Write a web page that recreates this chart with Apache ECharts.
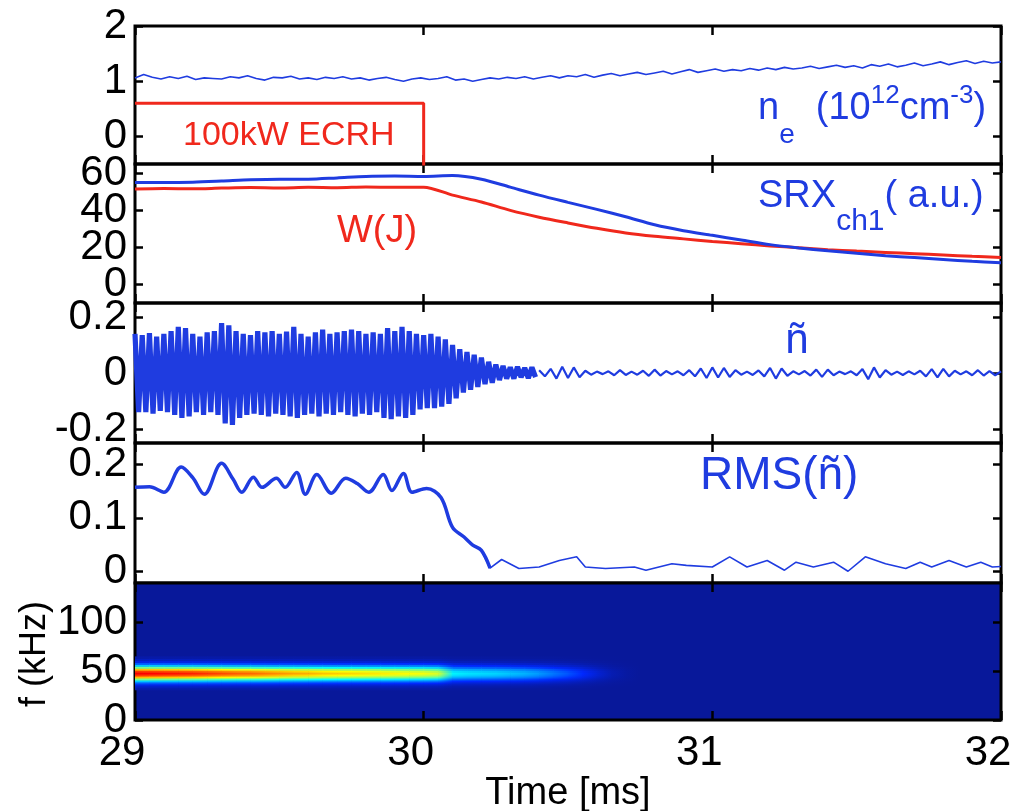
<!DOCTYPE html>
<html><head><meta charset="utf-8">
<script src="https://cdn.jsdelivr.net/npm/echarts@6/dist/echarts.min.js"></script>
<style>html,body{margin:0;padding:0;background:#fff}#c{width:1019px;height:811px}</style>
</head><body><div id="c"></div>
<script>
// ---------------- DATA ----------------
const timeTicks = [29, 30, 31, 32];
const neTicks = [0, 1, 2];
const srxTicks = [0, 20, 40, 60];
const ntTicks = [-0.2, 0, 0.2];
const rmsTicks = [0, 0.1, 0.2];
const fTicks = [0, 50, 100];

// electron density n_e, sampled every 0.03 ms from 29 ms
const neStart = 29, neStep = 0.03;
const neValues = [
  1.06, 1.12, 1.07, 1.04, 1.08, 1.05, 1.09, 1.03, 1.06, 1.05,
  1.04, 1.08, 1.06, 1.10, 1.05, 1.02, 1.07, 1.06, 1.09, 1.04,
  1.06, 1.03, 1.07, 1.05, 1.08, 1.04, 1.06, 1.02, 1.05, 1.07,
  1.03, 1.00, 1.04, 1.06, 1.03, 1.05, 1.08, 1.02, 1.04, 1.00,
  1.03, 1.06, 1.04, 1.07, 1.05, 1.08, 1.04, 1.07, 1.10, 1.06,
  1.10, 1.08, 1.12, 1.07, 1.11, 1.14, 1.10, 1.13, 1.16, 1.12,
  1.15, 1.18, 1.13, 1.17, 1.21, 1.16, 1.19, 1.22, 1.18, 1.21,
  1.19, 1.23, 1.20, 1.24, 1.21, 1.25, 1.22, 1.24, 1.27, 1.23,
  1.26, 1.29, 1.25, 1.28, 1.24, 1.30, 1.27, 1.31, 1.26, 1.29,
  1.33, 1.28, 1.31, 1.35, 1.30, 1.34, 1.37, 1.32, 1.36, 1.33,
  1.35
];
// ECRH pulse (100 kW) on/off
const ecrhTime = [29, 30, 30];
const ecrhValue = [0.6, 0.6, -0.6];

// SRX ch1 and stored energy W(J)
const slowTime = [29.0, 29.1, 29.2, 29.3, 29.4, 29.5, 29.6, 29.7, 29.8, 29.9,
  30.0, 30.1, 30.2, 30.3, 30.4, 30.5, 30.6, 30.7, 30.8, 30.9,
  31.0, 31.1, 31.2, 31.3, 31.4, 31.5, 31.6, 31.7, 31.8, 31.9, 32.0];
const srxValue = [55.0, 55.0, 55.2, 55.8, 56.5, 56.8, 56.8, 57.5, 58.3, 58.5,
  58.3, 58.8, 56.8, 52.5, 48.2, 44.3, 40.5, 36.5, 32.2, 29.0,
  26.5, 24.0, 21.5, 19.7, 18.2, 16.8, 15.5, 14.5, 13.5, 12.5, 11.7];
const wValue = [51.5, 51.8, 51.6, 52.0, 52.3, 52.1, 52.4, 52.2, 52.6, 52.4,
  52.5, 48.2, 44.5, 40.0, 36.3, 33.2, 30.3, 27.8, 26.0, 24.6,
  23.2, 22.0, 20.8, 19.8, 18.8, 18.0, 17.3, 16.6, 15.9, 15.2, 14.6];

// density fluctuation ñ : positive / negative peaks of each oscillation cycle
const ntStart = 29, ntCycle = 0.025;
const ntHigh = [
  0.140, 0.135, 0.142, 0.130, 0.140, 0.150, 0.165, 0.160, 0.140, 0.130,
  0.145, 0.150, 0.178, 0.170, 0.150, 0.140, 0.135, 0.150, 0.145, 0.150,
  0.140, 0.148, 0.165, 0.140, 0.130, 0.145, 0.155, 0.140, 0.145, 0.150,
  0.155, 0.150, 0.140, 0.145, 0.140, 0.160, 0.150, 0.165, 0.150, 0.140,
  0.135, 0.140, 0.130, 0.120, 0.100, 0.085, 0.075, 0.065, 0.055, 0.040,
  0.030, 0.025, 0.020, 0.022, 0.018, 0.020];
const ntLow = [
  -0.140, -0.140, -0.145, -0.135, -0.140, -0.150, -0.160, -0.155, -0.140, -0.150,
  -0.140, -0.150, -0.180, -0.185, -0.160, -0.150, -0.145, -0.150, -0.155, -0.145,
  -0.150, -0.155, -0.160, -0.150, -0.145, -0.155, -0.145, -0.150, -0.140, -0.150,
  -0.155, -0.145, -0.150, -0.140, -0.160, -0.165, -0.155, -0.160, -0.150, -0.130,
  -0.125, -0.125, -0.120, -0.110, -0.090, -0.070, -0.060, -0.050, -0.040, -0.035,
  -0.025, -0.020, -0.020, -0.015, -0.018, -0.015];
// residual fluctuation after the transition, every 0.02 ms from 30.40 ms
const ntNoiseStart = 30.40, ntNoiseStep = 0.02;
const ntNoise = [
  0.010, -0.012, 0.015, -0.020, 0.022, -0.018, 0.020, -0.015, 0.008, -0.006,
  0.005, -0.004, 0.006, -0.008, 0.010, -0.007, 0.005, -0.006, 0.008, -0.010,
  0.012, -0.009, 0.007, -0.005, 0.006, -0.008, 0.010, -0.012, 0.016, -0.018,
  0.020, -0.016, 0.018, -0.014, 0.010, -0.006, 0.005, -0.007, 0.009, -0.012,
  0.018, -0.020, 0.016, -0.010, 0.006, -0.005, 0.007, -0.009, 0.012, -0.014,
  0.012, -0.008, 0.005, -0.004, 0.006, -0.008, 0.014, -0.022, 0.020, -0.016,
  0.010, -0.006, 0.005, -0.007, 0.006, -0.005, 0.008, -0.012, 0.014, -0.016,
  0.015, -0.012, 0.008, -0.005, 0.006, -0.008, 0.010, -0.009, 0.007, -0.008,
  0.006];

// RMS(ñ)
const rmsTime = [29.00, 29.05, 29.10, 29.16, 29.20, 29.24, 29.30, 29.34, 29.37, 29.41,
  29.44, 29.49, 29.52, 29.56, 29.59, 29.63, 29.68, 29.73, 29.77, 29.81,
  29.86, 29.89, 29.93, 29.96, 30.01, 30.06, 30.10, 30.14, 30.17, 30.20,
  30.23, 30.27, 30.33, 30.40, 30.47, 30.53, 30.56, 30.63, 30.73, 30.77,
  30.86, 30.91, 31.00, 31.06, 31.12, 31.19, 31.25, 31.29, 31.35, 31.42,
  31.47, 31.53, 31.60, 31.67, 31.72, 31.76, 31.82, 31.88, 31.93, 31.97, 32.00];
const rmsValue = [0.157, 0.158, 0.148, 0.195, 0.175, 0.144, 0.202, 0.172, 0.148, 0.176,
  0.157, 0.174, 0.157, 0.185, 0.144, 0.181, 0.146, 0.174, 0.164, 0.148,
  0.181, 0.151, 0.183, 0.148, 0.155, 0.138, 0.082, 0.064, 0.049, 0.039,
  0.006, 0.022, 0.005, 0.008, 0.020, 0.027, 0.008, 0.005, 0.008, 0.002,
  0.014, 0.011, 0.008, 0.027, 0.008, 0.020, 0.002, 0.017, 0.008, 0.017,
  0.000, 0.027, 0.014, 0.005, 0.017, 0.008, 0.020, 0.008, 0.017, 0.008, 0.009];

// spectrogram: mode amplitude vs time, and its frequency profile
const specTime = [29.00, 29.05, 29.10, 29.15, 29.20, 29.25, 29.30, 29.35, 29.40, 29.45,
  29.50, 29.55, 29.60, 29.65, 29.70, 29.75, 29.80, 29.85, 29.90, 29.95,
  30.00, 30.05, 30.10, 30.15, 30.20, 30.25, 30.30, 30.35, 30.40, 30.45,
  30.50, 30.55, 30.60, 30.65, 30.70];
const specAmp = [0.88, 0.87, 0.86, 0.85, 0.84, 0.82, 0.80, 0.78, 0.77, 0.75,
  0.73, 0.71, 0.70, 0.68, 0.67, 0.66, 0.65, 0.64, 0.63, 0.62,
  0.61, 0.58, 0.36, 0.34, 0.33, 0.32, 0.30, 0.28, 0.25, 0.21,
  0.17, 0.12, 0.07, 0.03, 0.01];
const specFreq = [31, 33, 35, 37, 39, 41, 43, 45, 47, 49, 51, 53, 55, 57, 59, 61, 63];
const specProfile = [0.02, 0.05, 0.10, 0.20, 0.35, 0.55, 0.78, 0.93, 1.00, 0.93,
  0.78, 0.55, 0.35, 0.20, 0.10, 0.05, 0.02];

// ---------------- STYLE / LAYOUT ----------------
const FONT = '"Liberation Sans", Arial, Helvetica, sans-serif';
const BLUE = '#1f3ce0';
const RED = '#f0281c';
const BG = [8, 24, 154];
const grids = [
  {top: 26, height: 138},
  {top: 164, height: 139},
  {top: 303, height: 140},
  {top: 443, height: 140},
  {top: 583, height: 137}
];
const yRanges = [[-0.5, 2, neTicks], [-10, 65, srxTicks], [-0.25, 0.25, ntTicks],
  [-0.022, 0.24, rmsTicks], [0, 140, fTicks]];

const stops = [[0, BG], [0.12, [0, 40, 255]], [0.37, [0, 255, 255]], [0.62, [255, 255, 0]],
  [0.87, [255, 0, 0]], [1.0, [128, 0, 0]]];
function cmap(v) {
  v = Math.max(0, Math.min(1, v));
  for (let k = 1; k < stops.length; k++) {
    if (v <= stops[k][0]) {
      const a = stops[k - 1], b = stops[k];
      const f = (v - a[0]) / (b[0] - a[0]);
      const c = a[1].map((x, m) => Math.round(x + (b[1][m] - x) * f));
      return 'rgb(' + c.join(',') + ')';
    }
  }
  return 'rgb(128,0,0)';
}

const tickStyle = {color: '#000', width: 2.5};
const labelBase = {fontSize: 42, fontFamily: FONT, color: '#000', lineHeight: 30,
  hideOverlap: false, showMinLabel: true, showMaxLabel: true};
const xAxes = [], yAxes = [];
function leftAxis(gi, r, labelValues, tickValues) {
  return {
    type: 'value', gridIndex: gi, min: r[0], max: r[1], position: 'left',
    axisLine: {show: false, onZero: false}, splitLine: {show: false},
    axisTick: {show: true, inside: true, length: 8, lineStyle: tickStyle, customValues: tickValues},
    axisLabel: Object.assign({show: true, customValues: labelValues, margin: 8}, labelBase)
  };
}
grids.forEach((g, i) => {
  const last = i === grids.length - 1;
  xAxes.push({
    type: 'value', gridIndex: i, min: 29, max: 32, interval: 1, position: 'bottom',
    axisLine: {show: false, onZero: false}, splitLine: {show: false},
    axisTick: {show: true, inside: true, length: 9, lineStyle: tickStyle, customValues: timeTicks},
    axisLabel: Object.assign({show: last, customValues: timeTicks, margin: 18, padding: [0, 26, 0, 0]}, labelBase),
    name: last ? 'Time [ms]' : '', nameLocation: 'middle', nameGap: 50,
    nameTextStyle: {fontSize: 38, fontFamily: FONT, color: '#000'}
  });
  xAxes.push({
    type: 'value', gridIndex: i, min: 29, max: 32, interval: 1, position: 'top',
    axisLine: {show: false, onZero: false}, splitLine: {show: false},
    axisTick: {show: true, inside: true, length: 9, lineStyle: tickStyle, customValues: timeTicks},
    axisLabel: {show: false}
  });
  const r = yRanges[i];
  // tightly packed labels (panel 2) are split over two coincident axes so none is dropped
  const labelsA = i === 1 ? r[2].filter((v, k) => k % 2 === 0) : r[2];
  yAxes.push(leftAxis(i, r, labelsA, r[2]));
  yAxes.push({
    type: 'value', gridIndex: i, min: r[0], max: r[1], position: 'right',
    axisLine: {show: false, onZero: false}, splitLine: {show: false},
    axisTick: {show: true, inside: true, length: 8, lineStyle: tickStyle, customValues: r[2]},
    axisLabel: {show: false}
  });
});
yAxes.push(leftAxis(1, yRanges[1], yRanges[1][2].filter((v, k) => k % 2 === 1), yRanges[1][2]));

const gridOpts = grids.map((g, i) => ({
  left: 135, right: 18, top: g.top, height: g.height, show: true,
  containLabel: false, outerBoundsMode: 'none',
  borderColor: '#000', borderWidth: 3,
  backgroundColor: i === 4 ? 'rgb(' + BG.join(',') + ')' : 'transparent'
}));

// build series data
const neData = neValues.map((v, i) => [neStart + i * neStep, v]);
const ecrhData = ecrhTime.map((t, i) => [t, ecrhValue[i]]);
const srxData = slowTime.map((t, i) => [t, srxValue[i]]);
const wData = slowTime.map((t, i) => [t, wValue[i]]);
const ntData = [];
ntHigh.forEach((h, k) => {
  ntData.push([ntStart + k * ntCycle, h]);
  ntData.push([ntStart + k * ntCycle + ntCycle / 2, ntLow[k]]);
});
const ntNoiseData = ntNoise.map((v, i) => [ntNoiseStart + i * ntNoiseStep, v]);
const rmsAll = rmsTime.map((t, i) => [t, rmsValue[i]]);
const rmsEarly = rmsAll.filter(p => p[0] <= 30.23);
const rmsLate = rmsAll.filter(p => p[0] >= 30.20);
const specCells = [];
specAmp.forEach((a, i) => specProfile.forEach((p, j) => specCells.push([i, j])));

// n_e label: two overlaid rich texts sharing the same horizontal layout,
// one carrying the base line + subscript, the other the raised superscripts
const neRich = '{m|n}{s|e}{m|  (10}{p|12}{m|cm}{p|-3}{m|)}';
function neStyles(showBase, showSup) {
  const cb = showBase ? BLUE : 'rgba(0,0,0,0)';
  const cp = showSup ? BLUE : 'rgba(0,0,0,0)';
  return {
    m: {fontSize: 38, fontFamily: FONT, lineHeight: 38, verticalAlign: 'top', fill: cb, color: cb},
    s: {fontSize: 28, fontFamily: FONT, lineHeight: 59, verticalAlign: 'bottom', fill: cb, color: cb},
    p: {fontSize: 26, fontFamily: FONT, lineHeight: 26, verticalAlign: 'top', fill: cp, color: cp}
  };
}

const option = {
  animation: false,
  backgroundColor: '#fff',
  grid: gridOpts,
  xAxis: xAxes,
  yAxis: yAxes,
  series: [
    {type: 'line', xAxisIndex: 0, yAxisIndex: 0, data: neData, symbol: 'none',
      lineStyle: {color: BLUE, width: 1.6}},
    {type: 'line', xAxisIndex: 0, yAxisIndex: 0, data: ecrhData, symbol: 'none',
      lineStyle: {color: RED, width: 3}},
    {type: 'line', xAxisIndex: 2, yAxisIndex: 2, data: wData, symbol: 'none', smooth: 0.3,
      lineStyle: {color: RED, width: 3}},
    {type: 'line', xAxisIndex: 2, yAxisIndex: 2, data: srxData, symbol: 'none', smooth: 0.3,
      lineStyle: {color: BLUE, width: 3}},
    {type: 'line', xAxisIndex: 4, yAxisIndex: 4, data: ntData, symbol: 'none',
      lineStyle: {color: BLUE, width: 5.2, join: 'bevel'}},
    {type: 'line', xAxisIndex: 4, yAxisIndex: 4, data: ntNoiseData, symbol: 'none',
      lineStyle: {color: BLUE, width: 2.2}},
    {type: 'line', xAxisIndex: 6, yAxisIndex: 6, data: rmsEarly, symbol: 'none', smooth: 0.35,
      lineStyle: {color: BLUE, width: 3.5}},
    {type: 'line', xAxisIndex: 6, yAxisIndex: 6, data: rmsLate, symbol: 'none',
      lineStyle: {color: BLUE, width: 1.6}},
    {type: 'custom', xAxisIndex: 8, yAxisIndex: 8, data: specCells, clip: true,
      renderItem: function (params, api) {
        const i = api.value(0), j = api.value(1);
        const dt = (specTime[1] - specTime[0]);
        const df = (specFreq[1] - specFreq[0]);
        const p0 = api.coord([specTime[i], specFreq[j]]);
        const p1 = api.coord([specTime[i] + dt, specFreq[j] + df]);
        const aNext = i + 1 < specAmp.length ? specAmp[i + 1] : 0;
        const c0 = cmap(specAmp[i] * specProfile[j]);
        const c1 = cmap(aNext * specProfile[j]);
        return {
          type: 'rect',
          shape: {x: p0[0], y: p1[1], width: p1[0] - p0[0] + 0.6, height: p0[1] - p1[1] + 0.6},
          style: {fill: new echarts.graphic.LinearGradient(0, 0, 1, 0,
            [{offset: 0, color: c0}, {offset: 1, color: c1}])}
        };
      }}
  ],
  graphic: [
    {type: 'text', x: 183, y: 136, z: 100, style: {text: '100kW ECRH', fill: RED,
      font: '34px ' + FONT, verticalAlign: 'middle'}},
    {type: 'text', x: 758, y: 90, z: 100, style: {text: neRich, verticalAlign: 'top',
      rich: neStyles(true, false)}},
    {type: 'text', x: 758, y: 83, z: 100, style: {text: neRich, verticalAlign: 'top',
      rich: neStyles(false, true)}},
    {type: 'text', x: 758, y: 178, z: 100, style: {
      text: '{m|SRX}{s|ch1}{m|( a.u.)}', verticalAlign: 'top', fill: BLUE,
      rich: {
        m: {fontSize: 38, fontFamily: FONT, lineHeight: 38, verticalAlign: 'top', fill: BLUE, color: BLUE},
        s: {fontSize: 30, fontFamily: FONT, lineHeight: 59, verticalAlign: 'bottom', fill: BLUE, color: BLUE}
      }}},
    {type: 'text', x: 337, y: 232, z: 100, style: {text: 'W(J)', fill: RED,
      font: '38px ' + FONT, verticalAlign: 'middle'}},
    {type: 'text', x: 797, y: 341, z: 100, style: {text: 'ñ', fill: BLUE,
      font: '42px ' + FONT, align: 'center', verticalAlign: 'middle'}},
    {type: 'text', x: 700, y: 476, z: 100, style: {text: 'RMS(ñ)', fill: BLUE,
      font: '46px ' + FONT, verticalAlign: 'middle'}},
    {type: 'text', x: 35, y: 654, z: 100, rotation: Math.PI / 2, style: {text: 'f (kHz)', fill: '#000',
      font: '36px ' + FONT, align: 'center', verticalAlign: 'middle'}}
  ]
};
const chart = echarts.init(document.getElementById('c'), null, {renderer: 'canvas'});
chart.setOption(option);
</script></body></html>
